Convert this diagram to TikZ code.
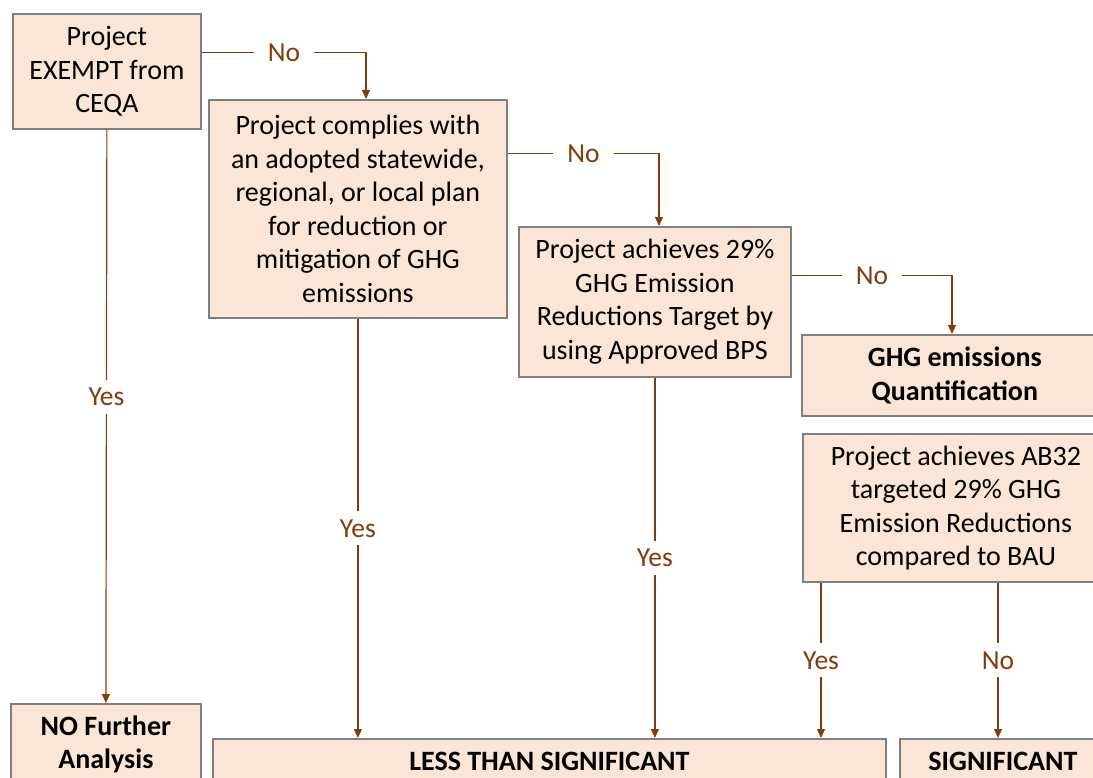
\documentclass[tikz,border=0pt]{standalone}
\usepackage{fontspec}
\setmainfont{Carlito}
\usetikzlibrary{calc,arrows.meta}
\definecolor{boxfill}{HTML}{FBE5D6}
\definecolor{boxline}{HTML}{7F7F7F}
\definecolor{flowbrown}{HTML}{843C0C}
\tikzset{
	box/.style={draw=boxline, line width=1.8pt, fill=boxfill, anchor=north west, align=center, inner sep=0pt, font=\fontsize{28}{33.5}\selectfont},
	flowline/.style={draw=flowbrown, line width=1.2pt, -{Triangle[length=9pt,width=8pt]}},
	answer/.style={fill=white, text=flowbrown, inner xsep=14pt, inner ysep=8pt, font=\fontsize{27.5}{30}\selectfont}
}

\begin{document}
\begin{tikzpicture}[x=1pt, y=-1pt]
				\clip (0,0) rectangle (1093,778);
				
				\node[box, minimum width=188, minimum height=115] (exempt) at (12,13) {Project\\EXEMPT from\\CEQA};
				\node[box, minimum width=298, minimum height=218] (comply) at (208,99) {Project complies with\\an adopted statewide,\\regional, or local plan\\for reduction or\\mitigation of GHG\\emissions};
				\node[box, minimum width=272, minimum height=150] (target) at (518,226) {Project achieves 29\%\\GHG Emission\\Reductions Target by\\using Approved BPS};
				\node[box, minimum width=306, minimum height=81] (quant) at (801,334) {\bfseries GHG emissions\\\bfseries Quantification};
				\node[box, minimum width=306, minimum height=148] (ab32) at (802,433) {Project achieves AB32\\targeted 29\% GHG\\Emission Reductions\\compared to BAU};
				
				\node[box, minimum width=190, minimum height=81] (nofurther) at (10,703) {\bfseries NO Further\\\bfseries Analysis};
				\node[box, minimum width=673, minimum height=46] (less) at (212,738) {\bfseries LESS THAN SIGNIFICANT};
				\node[box, minimum width=206, minimum height=46] (signif) at (899,738) {\bfseries SIGNIFICANT};
				
				\draw[flowline] ([yshift=18.5pt]exempt.east) -| node[answer, pos=0.25] {No} ($(comply.north west)+(158,0)$);
				\draw[flowline] ([yshift=55pt]comply.east) -| node[answer, pos=0.25] {No} ($(target.north west)+(141,0)$);
				\draw[flowline] ([yshift=26pt]target.east) -| node[answer, pos=0.25] {No} ($(quant.north west)+(151,0)$);
				
				\coordinate (yesfoot) at ($(ab32.south west)+(19,0)$);
				\coordinate (nofoot) at ($(ab32.south west)+(196,0)$);
				
				\draw[flowline] (exempt.south) -- node[answer, pos=0.466] {Yes} (nofurther.north);
				\draw[flowline] (comply.south) -- node[answer] {Yes} (comply.south |- less.north);
				\draw[flowline] (target.south) -- node[answer] {Yes} (target.south |- less.north);
				\draw[flowline] (yesfoot) -- node[answer] {Yes} (yesfoot |- less.north);
				\draw[flowline] (nofoot) -- node[answer] {No} (nofoot |- signif.north);
\end{tikzpicture}
\end{document}
